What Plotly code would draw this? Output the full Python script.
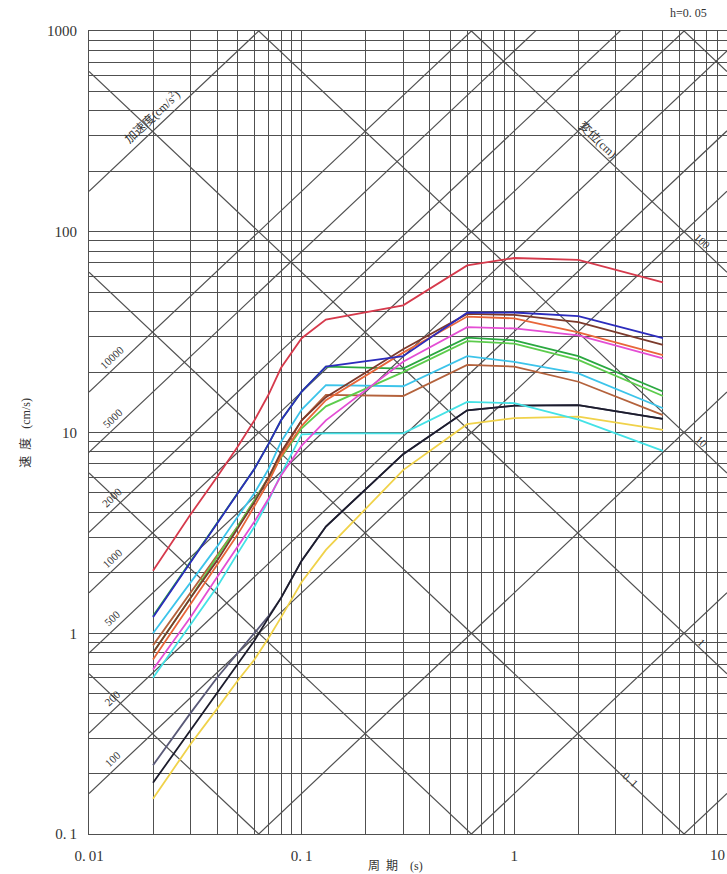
import numpy as np
import plotly.graph_objects as go

periods = [0.02, 0.03, 0.04, 0.05, 0.06, 0.07, 0.08, 0.1, 0.13, 0.3, 0.6, 1, 2, 5]

# pseudo velocity response (cm/s), h=0.05, one list per record
v_red = [2.05, 3.9, 6.0, 8.5, 11.5, 15.5, 21.0, 29.5, 36.5, 43.0, 68.0, 74.0, 72.5, 56.0]
v_blue = [1.2, 2.25, 3.5, 5.0, 6.6, 8.8, 11.5, 16.0, 21.3, 24.0, 39.5, 39.6, 38.0, 29.5]
v_dkbrown = [0.8, 1.5, 2.3, 3.3, 4.5, 6.0, 8.0, 11.5, 15.0, 26.0, 39.0, 38.5, 35.5, 27.3]
v_orange = [0.74, 1.4, 2.2, 3.1, 4.3, 5.7, 7.6, 10.8, 14.5, 25.0, 37.8, 37.0, 31.5, 24.3]
v_magenta = [0.66, 1.2, 1.9, 2.7, 3.6, 4.7, 6.1, 8.6, 11.5, 22.5, 33.5, 33.0, 30.5, 23.4]
v_green1 = [1.22, 2.27, 3.5, 5.0, 6.6, 8.8, 11.5, 16.0, 21.3, 20.8, 29.7, 28.8, 24.0, 16.0]
v_green2 = [0.8, 1.5, 2.4, 3.4, 4.6, 6.0, 7.5, 10.5, 13.5, 20.0, 28.5, 27.7, 23.0, 15.2]
v_cyan1 = [1.0, 1.8, 2.7, 3.8, 5.0, 6.6, 9.0, 13.0, 17.2, 17.0, 24.0, 22.5, 19.7, 13.2]
v_brown2 = [0.87, 1.6, 2.45, 3.4, 4.6, 6.0, 7.8, 11.5, 15.4, 15.2, 21.7, 21.3, 17.9, 12.2]
v_cyan2 = [0.6, 1.1, 1.7, 2.5, 3.4, 4.6, 6.2, 9.8, 9.9, 9.9, 14.2, 14.0, 11.6, 8.1]
v_slate = [0.22, 0.4, 0.6, 0.8, 1.0, 1.22, 1.5, 2.3, 3.4, 7.8, 12.9, 13.6, 13.7, 11.7]
v_black = [0.18, 0.33, 0.5, 0.7, 0.92, 1.2, 1.5, 2.3, 3.4, 7.8, 12.9, 13.6, 13.7, 11.7]
v_yellow = [0.15, 0.28, 0.42, 0.58, 0.74, 0.95, 1.2, 1.8, 2.6, 6.5, 11.0, 11.8, 12.0, 10.3]

series = [
    (v_slate, "#5a5a78"), (v_yellow, "#f0d24a"), (v_black, "#1c1c2c"),
    (v_cyan2, "#44e2e6"), (v_brown2, "#b4623c"), (v_cyan1, "#3cc4ea"),
    (v_green2, "#5ccc4c"), (v_green1, "#2aa840"), (v_magenta, "#e44ed4"),
    (v_orange, "#e8663a"), (v_dkbrown, "#7c3a2c"), (v_blue, "#2c2cbc"),
    (v_red, "#d63a4c"),
]

# tripartite guide lines
accel_lines = [0.1, 1, 10, 100, 200, 500, 1000, 2000, 5000, 10000, 100000]  # cm/s2
disp_lines = [0.001, 0.01, 0.1, 1, 10, 100, 1000]  # cm

accel_labels = [10000, 5000, 2000, 1000, 500, 200, 100]
disp_labels = [("100", 100), ("10", 10), ("1", 1)]

x_decades = [0.01, 0.1, 1, 10]
x_ticklabels = ["0.\u200901", "0.\u20091", "1", "10"]
y_decades = [0.1, 1, 10, 100, 1000]
y_ticklabels = ["0.\u20091", "1", "10", "100", "1000"]

GRID = "#505050"
SERIF = "Liberation Serif, DejaVu Serif, Noto Sans CJK JP"
TWO_PI = 2 * np.pi


def log_ticks(decades, labels):
    vals, text = [], []
    for d, lab in zip(decades[:-1], labels[:-1]):
        for m in range(1, 10):
            vals.append(d * m)
            text.append(lab if m == 1 else "")
    vals.append(decades[-1])
    text.append(labels[-1])
    return vals, text


xvals, xtext = log_ticks(x_decades, x_ticklabels)
yvals, ytext = log_ticks(y_decades, y_ticklabels)

fig = go.Figure()

t_ends = np.array([0.01, 10.0])
for a in accel_lines:
    fig.add_trace(go.Scatter(x=t_ends, y=a * t_ends / TWO_PI, mode="lines",
                             line=dict(color=GRID, width=1.2), hoverinfo="skip"))
for d in disp_lines:
    fig.add_trace(go.Scatter(x=t_ends, y=TWO_PI * d / t_ends, mode="lines",
                             line=dict(color=GRID, width=1.2), hoverinfo="skip"))

for vals, col in series:
    fig.add_trace(go.Scatter(x=periods, y=vals, mode="lines",
                             line=dict(color=col, width=1.8)))

# labels along the diagonals
ang = 43.3
t_lab = 0.01376
for a in accel_labels:
    v = a * t_lab / TWO_PI
    fig.add_annotation(x=np.log10(t_lab), y=np.log10(v), text=str(a), showarrow=False,
                       textangle=-ang, xshift=-6, yshift=7,
                       font=dict(family=SERIF, size=11, color="#333"))
t_acc = 0.0214
fig.add_annotation(x=np.log10(t_acc), y=np.log10(100000 * t_acc / TWO_PI),
                   text="加速度(cm/s<sup>2</sup>)", showarrow=False, textangle=-ang,
                   xshift=-7, yshift=8, font=dict(family=SERIF, size=12, color="#333"))

t_dl = 7.4
for txt, d in disp_labels:
    fig.add_annotation(x=np.log10(t_dl), y=np.log10(TWO_PI * d / t_dl), text=txt,
                       showarrow=False, textangle=ang, xshift=3, yshift=5,
                       font=dict(family=SERIF, size=11, color="#333"))
t_d01 = 3.46
fig.add_annotation(x=np.log10(t_d01), y=np.log10(TWO_PI * 0.1 / t_d01), text="0. 1",
                   showarrow=False, textangle=ang, xshift=2, yshift=2,
                   font=dict(family=SERIF, size=11, color="#333"))
t_dsp = 2.35
fig.add_annotation(x=np.log10(t_dsp), y=np.log10(TWO_PI * 100 / t_dsp), text="変位(cm)",
                   showarrow=False, textangle=ang, xshift=5, yshift=7,
                   font=dict(family=SERIF, size=12, color="#333"))

fig.add_annotation(xref="paper", yref="paper", x=0.94, y=1.022, text="h=0. 05",
                   showarrow=False, xanchor="center", yanchor="middle",
                   font=dict(family=SERIF, size=12, color="#333"))
fig.add_annotation(xref="paper", yref="paper", x=0.48, y=-0.04, text="周  期    (s)",
                   showarrow=False, xanchor="center", yanchor="middle",
                   font=dict(family=SERIF, size=12, color="#333"))
fig.add_annotation(xref="paper", yref="paper", x=-0.1, y=0.5, text="速  度   (cm/s)",
                   showarrow=False, textangle=-90, xanchor="center", yanchor="middle",
                   font=dict(family=SERIF, size=12, color="#333"))
# last period label sits right on the page edge, so keep it inside
fig.add_annotation(x=np.log10(x_decades[-1]), xref="x", yref="paper", y=-0.026,
                   text=x_ticklabels[-1], showarrow=False, xanchor="right",
                   yanchor="middle", font=dict(family=SERIF, size=15, color="#333"))

axis_common = dict(type="log", showgrid=True, gridcolor=GRID, gridwidth=1.2,
                   showline=True, linecolor=GRID, linewidth=1.2, mirror=True,
                   ticks="", zeroline=False, tickmode="array",
                   tickfont=dict(family=SERIF, size=15, color="#333"))

fig.update_layout(
    width=727, height=874,
    margin=dict(l=89, r=0, t=31, b=40),
    paper_bgcolor="white", plot_bgcolor="white",
    showlegend=False,
    xaxis=dict(axis_common, range=[-2, 1], tickvals=xvals, ticktext=xtext,
               ticklabelstandoff=8),
    yaxis=dict(axis_common, range=[-1, 3], tickvals=yvals, ticktext=ytext,
               ticklabelstandoff=8),
)

fig.write_html("out.html", config={"displayModeBar": False},
               post_script="document.body.style.margin='0';")
